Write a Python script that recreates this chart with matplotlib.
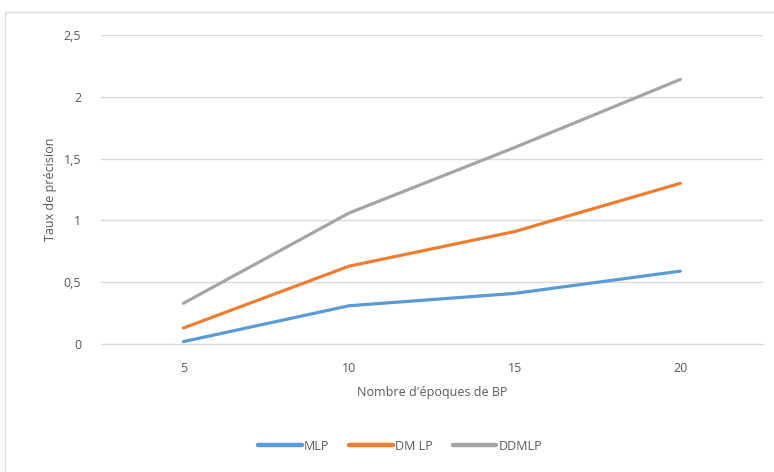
import matplotlib
matplotlib.use("Agg")
import matplotlib.pyplot as plt
from matplotlib.patches import Rectangle
from matplotlib.ticker import FuncFormatter

# Data
epochs = ["5", "10", "15", "20"]
mlp = [0.02, 0.31, 0.41, 0.59]
dmlp = [0.13, 0.63, 0.91, 1.30]
ddmlp = [0.33, 1.06, 1.59, 2.14]
series_names = ["MLP", "DM LP", "DDMLP"]
colors = ["#5B9BD5", "#ED7D31", "#A5A5A5"]

plt.rcParams["font.family"] = ["Open Sans", "DejaVu Sans"]
text_color = "#595959"

fig = plt.figure(figsize=(7.74, 4.72), dpi=100)
ax = fig.add_axes([0.130, 0.271, 0.856, 0.655])

# outer chart border like the Excel chart area (cut off at right and bottom)
fig.patches.append(Rectangle((5 / 774, -0.1), 1.0, 1.1 - 12 / 472,
                             transform=fig.transFigure, fill=False,
                             edgecolor="#d9d9d9", linewidth=1.0))

x = list(range(len(epochs)))
for vals, name, c in zip([mlp, dmlp, ddmlp], series_names, colors):
    ax.plot(x, vals, color=c, linewidth=2.3, label=name,
            solid_capstyle="round", zorder=3)

ax.set_xlim(-0.5, len(epochs) - 0.5)
ax.set_ylim(0, 2.5)
ax.set_xticks(x)
ax.set_xticklabels(epochs)
ax.set_yticks([0, 0.5, 1, 1.5, 2, 2.5])
ax.yaxis.set_major_formatter(FuncFormatter(lambda v, p: ("%g" % v).replace(".", ",")))

ax.grid(axis="y", color="#d9d9d9", linewidth=1.0, zorder=0)
for side in ["top", "right", "left"]:
    ax.spines[side].set_visible(False)
ax.spines["bottom"].set_color("#d9d9d9")
ax.tick_params(length=0, labelsize=9, colors=text_color)
ax.tick_params(axis="y", pad=14)
ax.tick_params(axis="x", pad=13)

ax.set_xlabel("Nombre d'époques de BP", fontsize=9, color=text_color, labelpad=8)
ax.set_ylabel("Taux de précision", fontsize=9, color=text_color, labelpad=5)

leg = fig.legend(loc="center", bbox_to_anchor=(0.517, 1 - 446 / 472), ncol=3,
                 frameon=False, fontsize=9, handlelength=3.5,
                 columnspacing=1.6, handletextpad=0.15)
for t in leg.get_texts():
    t.set_color(text_color)
for h in leg.get_lines():
    h.set_linewidth(3.2)

fig.savefig("out.png", dpi=100)
